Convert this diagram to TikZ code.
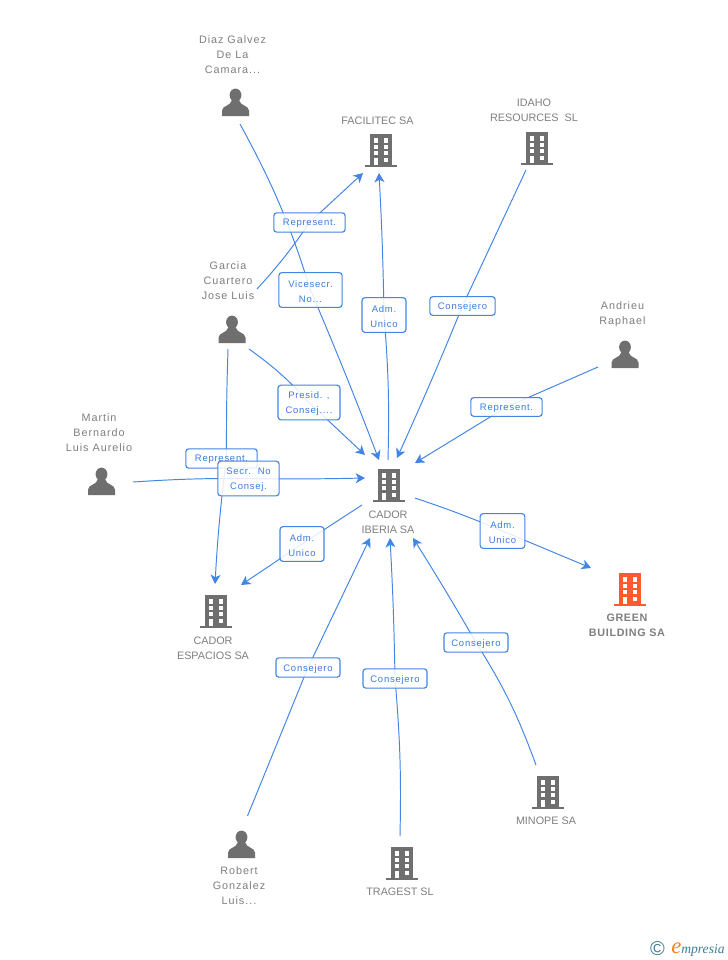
\documentclass[tikz,border=0pt]{standalone}
\usepackage{fontspec}
\setmainfont[LetterSpace=6]{Liberation Sans}
\newfontfamily\logofont{Liberation Serif}
\newfontfamily\persfont[LetterSpace=9]{Liberation Sans}
\newfontfamily\compfont{Liberation Sans}
\newfontfamily\tagfont[LetterSpace=8]{Liberation Sans}
\usetikzlibrary{arrows.meta,backgrounds}
\definecolor{lnk}{HTML}{4285E4}
\definecolor{lbl}{HTML}{3B7BDD}
\definecolor{txt}{HTML}{7F7F7F}
\definecolor{ico}{HTML}{6F6F6F}
\definecolor{hot}{HTML}{FF5B2E}
\definecolor{teal}{HTML}{3F7F93}
\definecolor{logoor}{HTML}{F58220}
\newcommand{\dn}[1]{\raisebox{-0.9pt}[\height][\depth]{#1}}
\tikzset{
  ent/.style={inner sep=0pt,minimum width=32,minimum height=32},
  captxt/.style={text=txt,align=center,inner sep=0pt,font=\persfont\fontsize{8.1}{11.25}\selectfont},
  captxtc/.style={text=txt,align=center,inner sep=0pt,font=\compfont\fontsize{8.1}{11.25}\selectfont},
  captxtb/.style={text=txt,align=center,inner sep=0pt,font=\fontsize{8.1}{11.25}\selectfont\bfseries},
  tagbox/.style={draw=lnk,line width=0.85pt,rounded corners=2.2pt,fill=white,fill opacity=.86,text opacity=1,text=lbl,align=center,inner sep=0pt,font=\tagfont\fontsize{7.1}{11.25}\selectfont},
  linkline/.style={draw=lnk,line width=0.72pt},
  arrowed/.style={linkline,-{Stealth[length=7pt,width=7.5pt,inset=2pt]}}
}
% building icon at node centre
\newcommand{\bldg}[3][ico]{%
  \node[ent] (#2) at (#3) {};
  \begin{scope}[shift={(#2.center)}]
    \fill[#1] (-11,-16) rectangle (11,15.5);
    \fill[#1] (-16,15) rectangle (16,17);
    \foreach \yy in {-11.7,-5.2,1.2}{
      \fill[white] (-7.4,\yy) rectangle (-2.9,{\yy+4.2});
      \fill[white] (2.9,\yy) rectangle (7.4,{\yy+4.2});
    }
    \fill[white] (-7.4,7.7) rectangle (-2.9,15);
    \fill[white] (2.9,7.7) rectangle (7.4,12);
  \end{scope}}
% person icon at node centre
\newcommand{\prsn}[2]{%
  \node[ent] (#1) at (#2) {};
  \begin{scope}[shift={(#1.center)}]
    \fill[ico] (0,-6.8) ellipse (5.9 and 6.6);
    \fill[ico] (-13.5,14) -- (-13.5,8.5) .. controls (-13,3) and (-5,4.5) .. (-3.5,-2) -- (3.5,-2) .. controls (5,4.5) and (13,3) .. (13.5,8.5) -- (13.5,14) -- cycle;
  \end{scope}}
\begin{document}
\begin{tikzpicture}[x=0.75pt,y=-0.75pt]
\useasboundingbox (0,0) rectangle (728,960);

\prsn{diaz}{235.5,102}
\prsn{garcia}{232,329}
\prsn{andrieu}{625,354}
\prsn{martin}{101.5,481}
\prsn{robert}{241.5,844}
\bldg{facilitec}{381,150}
\bldg{idaho}{537,148}
\bldg{cador}{389,485}
\bldg[hot]{green}{630,589}
\bldg{espacios}{216,611}
\bldg{minope}{548,792}
\bldg{tragest}{402,863}

\node[captxt] (tdiaz) at (232.5,55) {Diaz Galvez\\De La\\Camara...};
\node[captxtc] (tfac) at (377.5,120.5) {FACILITEC SA};
\node[captxtc] (tidaho) at (534,110) {IDAHO\\RESOURCES\ \ SL};
\node[captxt] (tgarcia) at (228,281) {Garcia\\Cuartero\\Jose Luis};
\node[captxt] (tandrieu) at (622.5,314) {Andrieu\\Raphael};
\node[captxt] (tmartin) at (99,433) {Martin\\Bernardo\\Luis Aurelio};
\node[captxtc] (tcador) at (388,522) {CADOR\\IBERIA SA};
\node[captxtb] (tgreen) at (627,625) {GREEN\\BUILDING SA};
\node[captxtc] (tesp) at (213,648) {CADOR\\ESPACIOS SA};
\node[captxtc] (tminope) at (546,821) {MINOPE SA};
\node[captxtc] (ttrag) at (400,892) {TRAGEST SL};
\node[captxt] (trobert) at (239,886) {Robert\\Gonzalez\\Luis...};

\node[tagbox,minimum width=53.5,minimum height=14.5] (l1) at (309.5,222.5) {\dn{Represent.}};
\node[tagbox,minimum width=47.5,minimum height=26] (l2) at (310.5,290) {\dn{Vicesecr.}\\\dn{No...}};
\node[tagbox,minimum width=33,minimum height=26] (l3) at (384,315) {\dn{Adm.}\\\dn{Unico}};
\node[tagbox,minimum width=49,minimum height=14] (l4) at (462.5,306) {\dn{Consejero}};
\node[tagbox,minimum width=53.5,minimum height=14] (l5) at (506.5,407) {\dn{Represent.}};
\node[tagbox,minimum width=46.5,minimum height=26] (l6) at (309,402.5) {\dn{Presid. ,}\\\dn{Consej....}};
\node[tagbox,minimum width=53.5,minimum height=14.5] (l7) at (221.5,458.5) {\dn{Represent.}};
\node[tagbox,minimum width=46,minimum height=26] (l8) at (248.5,478.5) {\dn{Secr.\ \ No}\\\dn{Consej.}};
\node[tagbox,minimum width=33,minimum height=26] (l9) at (302,544) {\dn{Adm.}\\\dn{Unico}};
\node[tagbox,minimum width=33.5,minimum height=26] (l10) at (502.5,531) {\dn{Adm.}\\\dn{Unico}};
\node[tagbox,minimum width=48,minimum height=14.5] (l11) at (308,667.5) {\dn{Consejero}};
\node[tagbox,minimum width=48,minimum height=14.5] (l12) at (395,678.5) {\dn{Consejero}};
\node[tagbox,minimum width=48,minimum height=14.5] (l13) at (476,642.5) {\dn{Consejero}};

\begin{pgfonlayer}{background}
\fill[white] (0,0) rectangle (728,960);
\draw[linkline] ([shift={(4.5,22)}]diaz.center) to[bend left=5.5] (l2.center);
\draw[arrowed] (l2.center) to[bend left=1] ([shift={(-10,-25)}]cador.center);
\draw[linkline] ([shift={(25,-40)}]garcia.center) to[bend right=4] (l1.center);
\draw[arrowed] (l1.center) -- ([shift={(-18,23)}]facilitec.center);
\draw[linkline] ([shift={(-1,-25)}]cador.center) to[bend right=3] (l3.center);
\draw[arrowed] (l3.center) to[bend right=1] ([shift={(-2,23)}]facilitec.center);
\draw[linkline] ([shift={(-11,22)}]idaho.center) -- (l4.center);
\draw[arrowed] (l4.center) to[bend left=1] ([shift={(8,-27)}]cador.center);
\draw[linkline] ([shift={(-27,13)}]andrieu.center) -- (l5.center);
\draw[arrowed] (l5.center) -- ([shift={(26,-22)}]cador.center);
\draw[linkline] ([shift={(17,20)}]garcia.center) to[bend left=6] (l6.center);
\draw[arrowed] (l6.center) -- ([shift={(-24,-30)}]cador.center);
\draw[linkline] ([shift={(-4,20)}]garcia.center) to[bend right=1] ([xshift=3.75pt]l7.center);
\draw[arrowed] ([xshift=3.75pt]l7.center) to[bend right=2] ([shift={(-1,-27)}]espacios.center);
\draw[linkline] ([shift={(31.5,1)}]martin.center) to[bend left=2] (l8.center);
\draw[arrowed] (l8.center) to[bend right=1] ([shift={(-24,-7)}]cador.center);
\draw[linkline] ([shift={(-27,20)}]cador.center) -- (l9.center);
\draw[arrowed] (l9.center) -- ([shift={(25,-26)}]espacios.center);
\draw[linkline] ([shift={(26,13)}]cador.center) to[bend left=2] (l10.center);
\draw[arrowed] (l10.center) -- ([shift={(-39,-21)}]green.center);
\draw[linkline] ([shift={(6,-28)}]robert.center) -- (l11.center);
\draw[arrowed] (l11.center) -- ([shift={(-19,53)}]cador.center);
\draw[linkline] ([shift={(-2,-27)}]tragest.center) to[bend right=3] (l12.center);
\draw[arrowed] (l12.center) to[bend right=1] ([shift={(1,53)}]cador.center);
\draw[linkline] ([shift={(-12,-27)}]minope.center) to[bend right=6] (l13.center);
\draw[arrowed] (l13.center) to[bend right=1] ([shift={(24,53)}]cador.center);
\end{pgfonlayer}

\node[inner sep=0pt,text=teal,font=\compfont\fontsize{15}{15}\selectfont] (copy) at (657.5,949) {©};
\node[inner sep=0pt,anchor=west,text=teal,font=\logofont\itshape\fontsize{10.2}{12}\selectfont] (logo) at (671,949.5) {\textcolor{logoor}{\fontsize{17}{12}\selectfont e}mpresia};
\end{tikzpicture}
\end{document}
